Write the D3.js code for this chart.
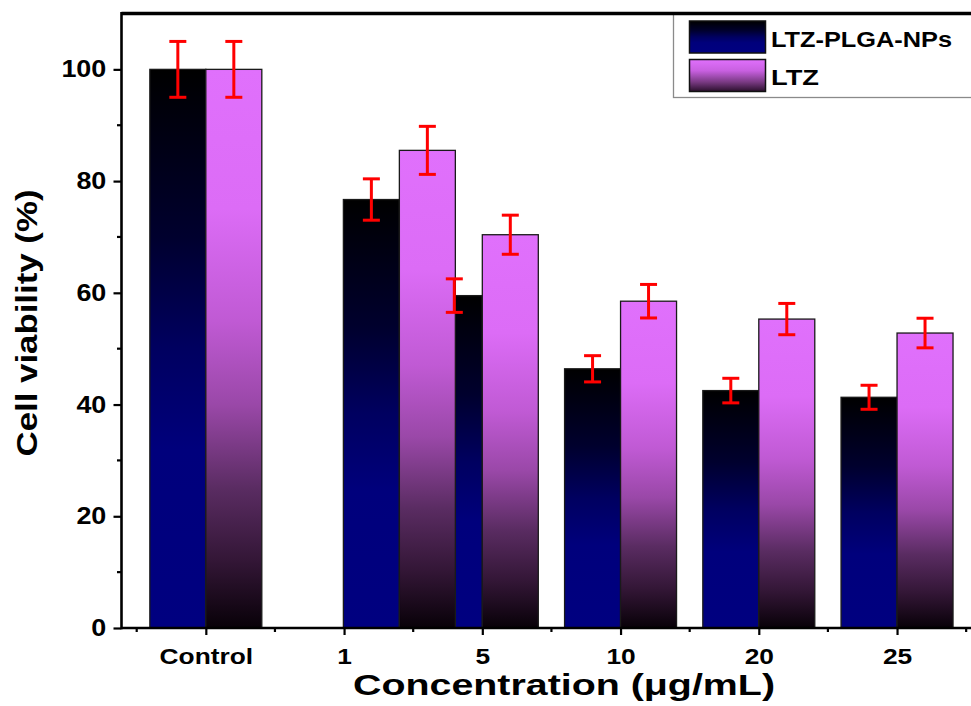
<!DOCTYPE html>
<html>
<head>
<meta charset="utf-8">
<script src="https://cdn.jsdelivr.net/npm/d3@7"></script>
<style>
  html, body { margin: 0; padding: 0; background: #fff; overflow: hidden; }
  svg { display: block; }
  text { font-family: "Liberation Sans", Arial, sans-serif; font-weight: bold; fill: #000; }
</style>
</head>
<body>
<svg id="chart" width="971" height="706"></svg>
<script>
// ---- data ----
const categories = ["Control", "1", "5", "10", "20", "25"];
const barX = [0, 1.4, 2, 3, 4, 5];            // x value at which each group was plotted
const npsValues = [100, 76.7, 59.5, 46.4, 42.5, 41.3];
const npsErrors = [5, 3.7, 3.0, 2.35, 2.2, 2.15];
const ltzValues = [100, 85.5, 70.4, 58.5, 55.3, 52.8];
const ltzErrors = [5, 4.3, 3.5, 3.0, 2.8, 2.65];
const seriesNames = ["LTZ-PLGA-NPs", "LTZ"];
const yTicks = [0, 20, 40, 60, 80, 100];
const yMinorTicks = [10, 30, 50, 70, 90];
const xTitle = "Concentration (\u03bcg/mL)";
const yTitle = "Cell viability (%)";

// ---- layout ----
const svg = d3.select("#chart");
const L = 121.5, R = 971, T = 13.5, B = 628;
const barW = 0.405;
const x = d3.scaleLinear().domain([-0.61, 5.535]).range([L, R]);
const y = d3.scaleLinear().domain([0, 110]).range([B, T]);

const defs = svg.append("defs");
const gNps = defs.append("linearGradient").attr("id", "gNps")
  .attr("x1", 0).attr("y1", 0).attr("x2", 0).attr("y2", 1);
[[0, "#000000"], [0.3, "#00002e"], [0.5, "#000060"], [0.68, "#00007c"], [1, "#000080"]]
  .forEach(([o, c]) => gNps.append("stop").attr("offset", o).attr("stop-color", c));
const gLtz = defs.append("linearGradient").attr("id", "gLtz")
  .attr("x1", 0).attr("y1", 0).attr("x2", 0).attr("y2", 1);
[[0, "#e070fc"], [0.25, "#dc6cf6"], [0.45, "#c05ad4"], [0.6, "#9a48a8"], [0.75, "#5a2c62"], [0.88, "#331636"], [1, "#080108"]]
  .forEach(([o, c]) => gLtz.append("stop").attr("offset", o).attr("stop-color", c));
const gLtzL = defs.append("linearGradient").attr("id", "gLtzL")
  .attr("x1", 0).attr("y1", 0).attr("x2", 0).attr("y2", 1);
[[0, "#e070fc"], [0.35, "#c860e0"], [0.7, "#7a3a84"], [1, "#2a0f2c"]]
  .forEach(([o, c]) => gLtzL.append("stop").attr("offset", o).attr("stop-color", c));

const rows = categories.map((c, i) => ({
  c, bx: barX[i], nps: npsValues[i], npsE: npsErrors[i], ltz: ltzValues[i], ltzE: ltzErrors[i]
}));

// bars: series 1 first, then series 2 (drawn over it)
svg.append("g").selectAll("rect").data(rows).join("rect")
  .attr("x", d => x(d.bx - barW)).attr("width", d => x(d.bx) - x(d.bx - barW))
  .attr("y", d => y(d.nps)).attr("height", d => y(0) - y(d.nps))
  .attr("fill", "url(#gNps)").attr("stroke", "#1a1a1a").attr("stroke-width", 1.3);
svg.append("g").selectAll("rect").data(rows).join("rect")
  .attr("x", d => x(d.bx)).attr("width", d => x(d.bx + barW) - x(d.bx))
  .attr("y", d => y(d.ltz)).attr("height", d => y(0) - y(d.ltz))
  .attr("fill", "url(#gLtz)").attr("stroke", "#1a1a1a").attr("stroke-width", 1.3);

// error bars
function errBars(cx, val, err) {
  const g = svg.append("g").attr("stroke", "#ff0000").attr("stroke-width", 3);
  rows.forEach(d => {
    const xc = x(cx(d)), v = val(d), e = err(d);
    g.append("line").attr("x1", xc).attr("x2", xc).attr("y1", y(v + e)).attr("y2", y(v - e));
    g.append("line").attr("x1", xc - 8.5).attr("x2", xc + 8.5).attr("y1", y(v + e)).attr("y2", y(v + e));
    g.append("line").attr("x1", xc - 8.5).attr("x2", xc + 8.5).attr("y1", y(v - e)).attr("y2", y(v - e));
  });
}
errBars(d => d.bx - barW / 2, d => d.nps, d => d.npsE);
errBars(d => d.bx + barW / 2, d => d.ltz, d => d.ltzE);

// axes
const xAxis = svg.append("g").attr("transform", `translate(0,${B})`)
  .call(d3.axisBottom(x).tickValues(d3.range(categories.length)).tickSize(7).tickSizeOuter(0)
    .tickFormat(i => categories[i]));
xAxis.select(".domain").remove();
xAxis.selectAll(".tick line").attr("stroke-width", 2.2);
xAxis.selectAll(".tick text").attr("y", 36.5).attr("dy", 0)
  .style("font-size", "22.5px").attr("transform", "scale(1.17,1)");
const xMinor = svg.append("g").attr("transform", `translate(0,${B})`);
d3.range(-0.5, 5.6, 1).forEach(v => {
  xMinor.append("line").attr("x1", x(v)).attr("x2", x(v)).attr("y1", 0).attr("y2", 4)
    .attr("stroke", "#000").attr("stroke-width", 2.2);
});

const yAxis = svg.append("g").attr("transform", `translate(${L},0)`)
  .call(d3.axisLeft(y).tickValues(yTicks).tickSize(8).tickSizeOuter(0));
yAxis.select(".domain").remove();
yAxis.selectAll(".tick line").attr("stroke-width", 2.2);
yAxis.selectAll(".tick text").attr("x", -13).attr("dy", "0.33em")
  .style("font-size", "23px").attr("transform", "scale(1.17,1)");
yMinorTicks.forEach(v => {
  svg.append("line").attr("x1", L - 4.5).attr("x2", L).attr("y1", y(v)).attr("y2", y(v))
    .attr("stroke", "#000").attr("stroke-width", 2.2);
});

// legend
const lg = svg.append("g");
lg.append("rect").attr("x", 673.5).attr("y", T).attr("width", 320).attr("height", 84)
  .attr("fill", "#fff").attr("stroke", "#8a8a8a").attr("stroke-width", 1.3);
const legendItems = [{ name: seriesNames[0], fill: "url(#gNps)" }, { name: seriesNames[1], fill: "url(#gLtzL)" }];
legendItems.forEach((d, i) => {
  const yy = 21 + i * 38.5;
  lg.append("rect").attr("x", 689.5).attr("y", yy).attr("width", 76).attr("height", 32)
    .attr("fill", d.fill).attr("stroke", "#111").attr("stroke-width", 1.5);
  lg.append("text").attr("x", 771).attr("y", yy + 25.5).style("font-size", "22px")
    .attr("textLength", i === 0 ? 181 : 48).attr("lengthAdjust", "spacingAndGlyphs").text(d.name);
});

// frame lines
svg.append("line").attr("x1", L).attr("x2", R + 5).attr("y1", T).attr("y2", T)
  .attr("stroke", "#000").attr("stroke-width", 3.5);
svg.append("line").attr("x1", L).attr("x2", L).attr("y1", T - 1.5).attr("y2", B + 1.2)
  .attr("stroke", "#000").attr("stroke-width", 2.6);
svg.append("line").attr("x1", L).attr("x2", R + 5).attr("y1", B).attr("y2", B)
  .attr("stroke", "#000").attr("stroke-width", 2.4);

// titles
svg.append("text").attr("x", 564).attr("y", 694.5).attr("text-anchor", "middle")
  .style("font-size", "29px").attr("textLength", 422).attr("lengthAdjust", "spacingAndGlyphs")
  .text(xTitle);
svg.append("text").attr("transform", "translate(37,323) rotate(-90)").attr("text-anchor", "middle")
  .style("font-size", "29px").attr("textLength", 267).attr("lengthAdjust", "spacingAndGlyphs")
  .text(yTitle);
</script>
</body>
</html>
